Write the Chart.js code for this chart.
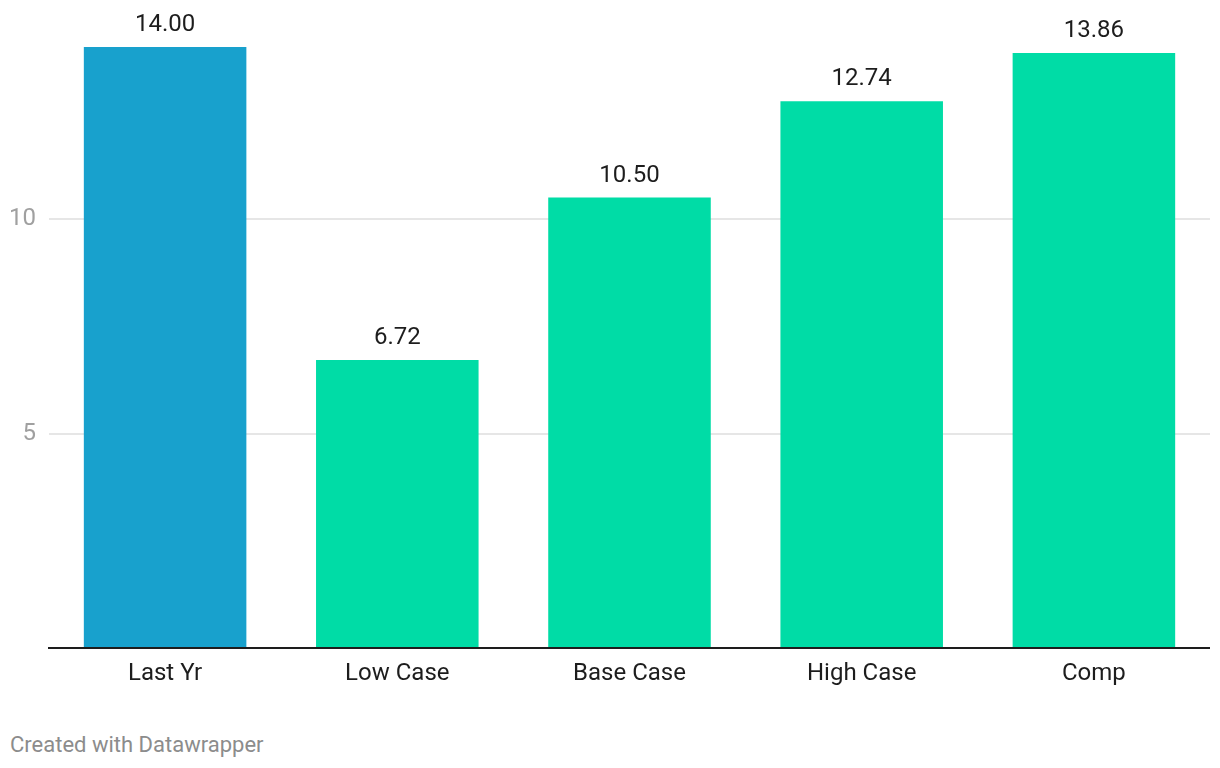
<!DOCTYPE html>
<html>
<head>
<meta charset="utf-8">
<script src="https://cdn.jsdelivr.net/npm/chart.js@4"></script>
<style>
  html, body { margin: 0; padding: 0; background: #fff; }
  #wrap { position: relative; width: 1220px; height: 768px; }
  #footer { position: absolute; left: 10px; top: 732px; font-family: Roboto, sans-serif; font-size: 22px; color: #8c8c8c; }
</style>
</head>
<body>
<div id="wrap">
  <canvas id="c" width="1220" height="710"></canvas>
  <div id="footer">Created with Datawrapper</div>
</div>
<script>
const categories = ["Last Yr", "Low Case", "Base Case", "High Case", "Comp"];
const values = [14.00, 6.72, 10.50, 12.74, 13.86];
const barColors = ["#18a1cd", "#00dca6", "#00dca6", "#00dca6", "#00dca6"];
const yTicks = [5, 10];

const FONT = "Roboto, sans-serif";

const valueLabels = {
  id: "valueLabels",
  afterDatasetsDraw(chart) {
    const ctx = chart.ctx;
    const meta = chart.getDatasetMeta(0);
    ctx.save();
    ctx.font = "24px " + FONT;
    ctx.fillStyle = "#1d1d1d";
    ctx.textAlign = "center";
    ctx.textBaseline = "alphabetic";
    meta.data.forEach((bar, i) => {
      ctx.fillText(values[i].toFixed(2), bar.x, bar.y - 16);
    });
    ctx.restore();
  }
};

const baseline = {
  id: "baseline",
  afterDatasetsDraw(chart) {
    const ctx = chart.ctx;
    const y = chart.scales.y.getPixelForValue(0);
    ctx.save();
    ctx.strokeStyle = "#1d1d1d";
    ctx.lineWidth = 2;
    ctx.beginPath();
    ctx.moveTo(48, y - 1);
    ctx.lineTo(chart.chartArea.right, y - 1);
    ctx.stroke();
    ctx.restore();
  }
};

new Chart(document.getElementById("c"), {
  type: "bar",
  data: {
    labels: categories,
    datasets: [{
      data: values,
      backgroundColor: barColors,
      borderWidth: 0,
      barPercentage: 0.70,
      categoryPercentage: 1.0
    }]
  },
  options: {
    responsive: false,
    animation: false,
    layout: { padding: { top: 4, right: 10, left: 0, bottom: 0 } },
    plugins: { legend: { display: false }, tooltip: { enabled: false } },
    scales: {
      x: {
        grid: { display: false, drawTicks: false },
        border: { display: false },
        ticks: { font: { family: FONT, size: 24 }, color: "#1d1d1d", padding: 11 },
        afterFit(s) { s.height = 61; s.paddingLeft = 0; s.paddingRight = 0; }
      },
      y: {
        min: 0, max: 15,
        afterBuildTicks(s) { s.ticks = [0, ...yTicks, 15].map(v => ({ value: v })); },
        grid: {
          drawTicks: false,
          lineWidth: 2,
          color: c => yTicks.includes(c.tick.value) ? "#e6e6e6" : "rgba(0,0,0,0)"
        },
        border: { display: false },
        ticks: {
          font: { family: FONT, size: 24 },
          color: "#a0a0a0",
          padding: 13,
          callback: v => yTicks.includes(v) ? String(v) : ""
        },
        afterFit(s) { s.width = 49; s.paddingTop = 0; s.paddingBottom = 0; }
      }
    }
  },
  plugins: [valueLabels, baseline]
});
</script>
</body>
</html>
